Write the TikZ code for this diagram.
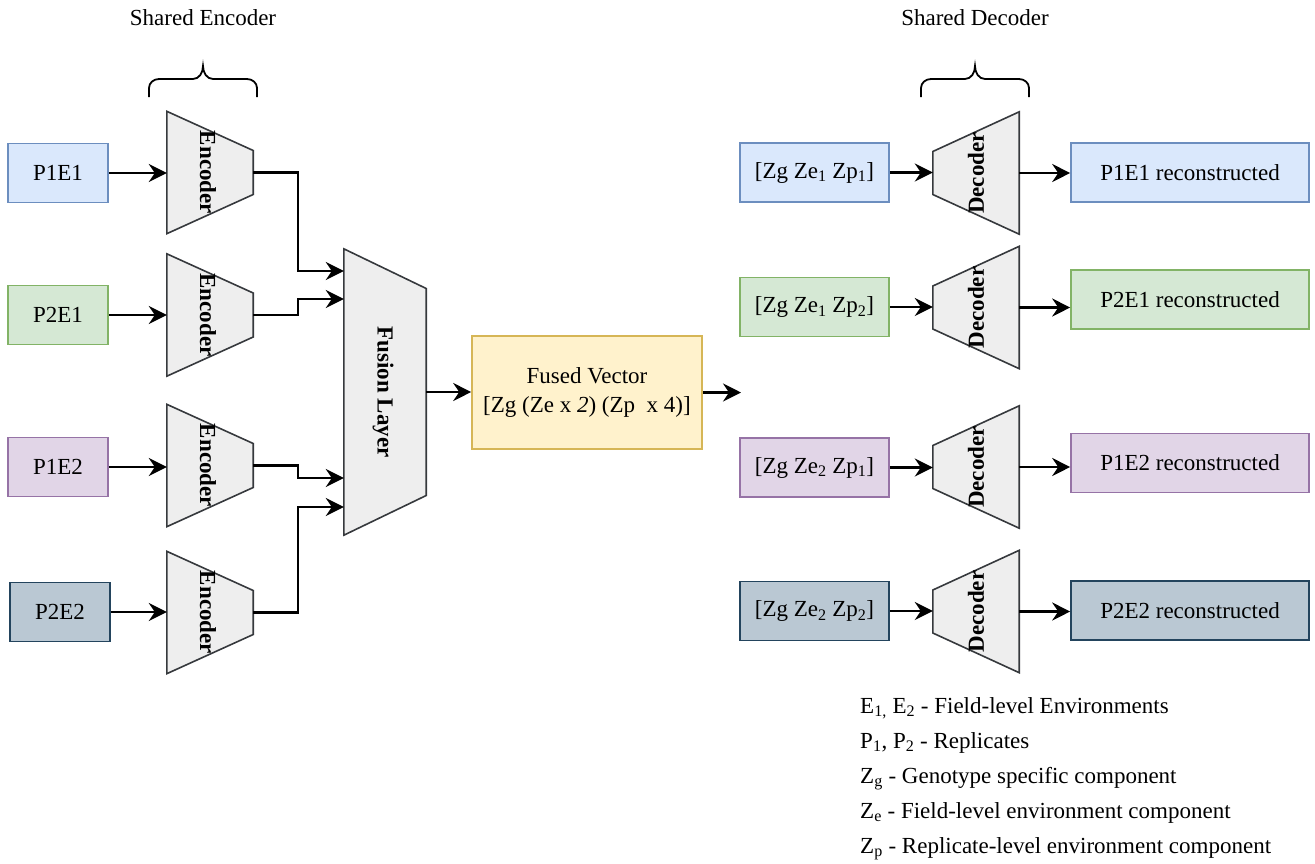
\documentclass[tikz,border=0pt]{standalone}
\usepackage{fontspec}
\setmainfont{Liberation Serif}
\usepackage{tikz}
\usetikzlibrary{arrows.meta,positioning,calc}

\definecolor{bluefill}{HTML}{DAE8FC}
\definecolor{bluedraw}{HTML}{6C8EBF}
\definecolor{greenfill}{HTML}{D5E8D4}
\definecolor{greendraw}{HTML}{82B366}
\definecolor{purplefill}{HTML}{E1D5E7}
\definecolor{purpledraw}{HTML}{9673A6}
\definecolor{slatefill}{HTML}{BAC8D3}
\definecolor{slatedraw}{HTML}{23445D}
\definecolor{yellowfill}{HTML}{FFF2CC}
\definecolor{yellowdraw}{HTML}{D6B656}
\definecolor{trapfill}{HTML}{EEEEEE}
\definecolor{trapdraw}{HTML}{36393D}

\begin{document}
\begin{tikzpicture}[
    x=1pt, y=-1pt,
    box/.style={rectangle, draw, line width=1.6pt, minimum width=100pt, minimum height=59pt, inner sep=0pt, align=center, font=\fontsize{23}{29}\selectfont},
    zbox/.style={box, minimum width=149pt},
    outbox/.style={box, minimum width=238pt},
    blk/.style={rectangle, minimum width=86pt, minimum height=122pt, inner sep=0pt},
    trap/.style={draw=trapdraw, fill=trapfill, line width=1.6pt},
    blklabel/.style={inner sep=0pt, font=\fontsize{23}{27}\selectfont\bfseries},
    plain/.style={inner sep=0pt, font=\fontsize{23}{27}\selectfont},
    arrow/.style={->, >={Stealth[length=18pt,width=18pt,inset=6pt]}, line width=2.2pt},
    bracket/.style={line width=1.8pt}
]
\useasboundingbox (0,0) rectangle (1315,863);

% Titles
\node[plain] (shenc) at (203,18) {Shared Encoder};
\node[plain] (shdec) at (975,18) {Shared Decoder};

% Braces
\draw[bracket] (149,97) -- (149,88) to[out=90,in=180] (159,79) -- (193,79) to[out=0,in=270] (203,66)
    to[out=270,in=180] (213,79) -- (247,79) to[out=0,in=90] (257,88) -- (257,97);
\draw[bracket] (921,97) -- (921,88) to[out=90,in=180] (931,79) -- (965,79) to[out=0,in=270] (975,66)
    to[out=270,in=180] (985,79) -- (1019,79) to[out=0,in=90] (1029,88) -- (1029,97);

% Inputs
\node[box, draw=bluedraw, fill=bluefill] (p1e1) at (58,173) {P1E1};
\node[box, draw=greendraw, fill=greenfill] (p2e1) at (58,315) {P2E1};
\node[box, draw=purpledraw, fill=purplefill] (p1e2) at (58,467) {P1E2};
\node[box, draw=slatedraw, fill=slatefill] (p2e2) at (60,612) {P2E2};

% Encoders
\node[blk] (enc1) at (210,172.5) {};
\node[blk] (enc2) at (210,315) {};
\node[blk] (enc3) at (210,465.5) {};
\node[blk] (enc4) at (210,612.5) {};
\draw[trap] (enc1.north west) -- ([yshift=22pt]enc1.east) -- ([yshift=-22pt]enc1.east) -- (enc1.south west) -- cycle;
\draw[trap] (enc2.north west) -- ([yshift=22pt]enc2.east) -- ([yshift=-22pt]enc2.east) -- (enc2.south west) -- cycle;
\draw[trap] (enc3.north west) -- ([yshift=22pt]enc3.east) -- ([yshift=-22pt]enc3.east) -- (enc3.south west) -- cycle;
\draw[trap] (enc4.north west) -- ([yshift=22pt]enc4.east) -- ([yshift=-22pt]enc4.east) -- (enc4.south west) -- cycle;
\node[blklabel, rotate=-90] (enc1txt) at ([xshift=-2pt]enc1.center) {Encoder};
\node[blklabel, rotate=-90] (enc2txt) at ([xshift=-2pt]enc2.center) {Encoder};
\node[blklabel, rotate=-90] (enc3txt) at ([xshift=-2pt]enc3.center) {Encoder};
\node[blklabel, rotate=-90] (enc4txt) at ([xshift=-2pt]enc4.center) {Encoder};

% Fusion layer
\node[blk, minimum width=82pt, minimum height=286pt] (fusion) at (385,392) {};
\draw[trap] (fusion.north west) -- ([yshift=103.5pt]fusion.east) -- ([yshift=-103.5pt]fusion.east) -- (fusion.south west) -- cycle;
\node[blklabel, rotate=-90] (fusiontxt) at ([xshift=-2pt]fusion.center) {Fusion Layer};

% Fused vector
\node[box, draw=yellowdraw, fill=yellowfill, minimum width=230pt, minimum height=113pt] (fused) at (587,392.5)
    {Fused Vector\\{[}Zg (Ze x \textit{2}) (Zp~ x 4)]};
\coordinate (fvend) at (741,392.5);

% Latent inputs
\node[zbox, draw=bluedraw, fill=bluefill] (zin1) at (814.5,172.5) {[Zg Ze\textsubscript{1} Zp\textsubscript{1}]};
\node[zbox, draw=greendraw, fill=greenfill] (zin2) at (814.5,307) {[Zg Ze\textsubscript{1} Zp\textsubscript{2}]};
\node[zbox, draw=purpledraw, fill=purplefill] (zin3) at (814.5,467.5) {[Zg Ze\textsubscript{2} Zp\textsubscript{1}]};
\node[zbox, draw=slatedraw, fill=slatefill] (zin4) at (814.5,611) {[Zg Ze\textsubscript{2} Zp\textsubscript{2}]};

% Decoders
\node[blk] (dec1) at (976,173) {};
\node[blk] (dec2) at (976,307.5) {};
\node[blk] (dec3) at (976,467) {};
\node[blk] (dec4) at (976,611.5) {};
\draw[trap] (dec1.north east) -- (dec1.south east) -- ([yshift=-21.5pt]dec1.west) -- ([yshift=21.5pt]dec1.west) -- cycle;
\draw[trap] (dec2.north east) -- (dec2.south east) -- ([yshift=-21.5pt]dec2.west) -- ([yshift=21.5pt]dec2.west) -- cycle;
\draw[trap] (dec3.north east) -- (dec3.south east) -- ([yshift=-21.5pt]dec3.west) -- ([yshift=21.5pt]dec3.west) -- cycle;
\draw[trap] (dec4.north east) -- (dec4.south east) -- ([yshift=-21.5pt]dec4.west) -- ([yshift=21.5pt]dec4.west) -- cycle;
\node[blklabel, rotate=90] (dec1txt) at (dec1.center) {Decoder};
\node[blklabel, rotate=90] (dec2txt) at (dec2.center) {Decoder};
\node[blklabel, rotate=90] (dec3txt) at (dec3.center) {Decoder};
\node[blklabel, rotate=90] (dec4txt) at (dec4.center) {Decoder};

% Outputs
\node[outbox, draw=bluedraw, fill=bluefill] (out1) at (1190,172.5) {P1E1 reconstructed};
\node[outbox, draw=greendraw, fill=greenfill] (out2) at (1190,299.5) {P2E1 reconstructed};
\node[outbox, draw=purpledraw, fill=purplefill] (out3) at (1190,463) {P1E2 reconstructed};
\node[outbox, draw=slatedraw, fill=slatefill] (out4) at (1190,610.5) {P2E2 reconstructed};

% Arrows
\draw[arrow] (p1e1) -- (p1e1 -| enc1.west);
\draw[arrow] (p2e1) -- (p2e1 -| enc2.west);
\draw[arrow] (p1e2) -- (p1e2 -| enc3.west);
\draw[arrow] (p2e2) -- (p2e2 -| enc4.west);
\draw[arrow] (enc1.east) -- ++(45,0) |- ([yshift=121pt]fusion.west);
\draw[arrow] (enc2.east) -- ++(45,0) |- ([yshift=93pt]fusion.west);
\draw[arrow] (enc3.east) -- ++(45,0) |- ([yshift=-86pt]fusion.west);
\draw[arrow] (enc4.east) -- ++(45,0) |- ([yshift=-115pt]fusion.west);
\draw[arrow] (fusion.east) -- (fusion.east -| fused.west);
\draw[arrow] (fused) -- (fvend);
\draw[arrow] (zin1) -- (zin1 -| dec1.west);
\draw[arrow] (zin2) -- (zin2 -| dec2.west);
\draw[arrow] (zin3) -- (zin3 -| dec3.west);
\draw[arrow] (zin4) -- (zin4 -| dec4.west);
\draw[arrow] (dec1.east) -- (dec1.east -| out1.west);
\draw[arrow] (dec2.east) -- (dec2.east -| out2.west);
\draw[arrow] (dec3.east) -- (dec3.east -| out3.west);
\draw[arrow] (dec4.east) -- (dec4.east -| out4.west);

% Legend
\node[plain, align=left, anchor=north west, font=\fontsize{23}{35}\selectfont] (legend) at (860,697) {%
E\textsubscript{1,} E\textsubscript{2} - Field-level Environments\\
P\textsubscript{1}, P\textsubscript{2} - Replicates\\
Z\textsubscript{g} - Genotype specific component\\
Z\textsubscript{e} - Field-level environment component\\
Z\textsubscript{p} - Replicate-level environment component};
\end{tikzpicture}
\end{document}
